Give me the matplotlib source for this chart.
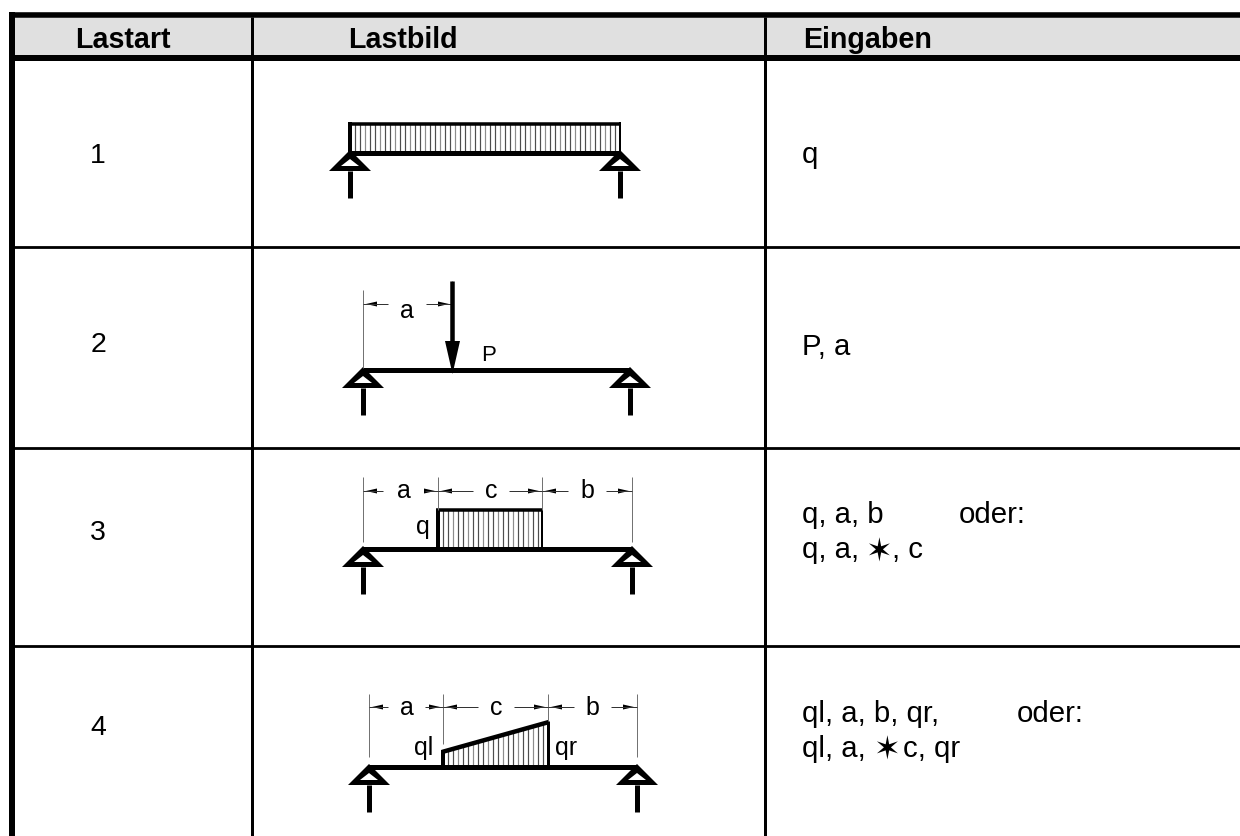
#!/usr/bin/env python3

import numpy as np
import matplotlib
matplotlib.use('Agg')
import matplotlib.pyplot as plt
from matplotlib.patches import Polygon, Rectangle

plt.rcParams['font.family'] = ['Liberation Sans', 'DejaVu Sans']

headers = ['Lastart', 'Lastbild', 'Eingaben']
header_x = [75, 348, 803]
row_numbers = ['1', '2', '3', '4']
number_base = [163, 352, 540, 735]
inputs = [('q', 802, 163), ('P, a', 802, 355),
          ('q, a, b', 802, 523), ('oder:', 959, 523),
          ('q, a,', 802, 558), (', c', 892, 558),
          ('ql, a, b, qr,', 802, 722), ('oder:', 1017, 722),
          ('ql, a,', 802, 757), ('c, qr', 903, 757)]
stars = [(879, 553), (887, 751)]

row_lines = [248, 449, 647]
col_lines = [252, 765]

# left support, right support, beam y
beams = [(350, 620, 154), (363, 630, 371), (363, 632, 550), (369, 637, 768)]

# dimension rows: (y, label baseline, ticks, labels, label gaps)
dim_a = (305, 318, [363, 452], ['a'], [(388, 426)])
dim_3 = (492, 498, [363, 438, 542, 632], ['a', 'c', 'b'],
         [(383, 425), (473, 509), (568, 606)])
dim_4 = (708, 715, [369, 443, 548, 637], ['a', 'c', 'b'],
         [(388, 425), (478, 514), (574, 611)])

fig = plt.figure(figsize=(12.4, 8.37), dpi=100)
ax = fig.add_axes([0, 0, 1, 1])
ax.set_xlim(0, 1240)
ax.set_ylim(837, 0)
ax.axis('off')


def px(w):
    return w * 0.72


def line(xs, ys, w, color='k'):
    ax.plot(xs, ys, color=color, lw=px(w), solid_capstyle='butt',
            solid_joinstyle='miter')


def support(x, y):
    ax.add_patch(Polygon([(x, y - 3), (x - 21, y + 18), (x + 21, y + 18)],
                         closed=True, fc='k', ec='none'))
    ax.add_patch(Polygon([(x, y + 6), (x - 9, y + 13), (x + 9, y + 13)],
                         closed=True, fc='white', ec='none'))
    line([x, x], [y + 18, y + 45], 5)


def beam(x0, x1, y):
    line([x0, x1], [y, y], 5)
    support(x0, y)
    support(x1, y)


def hatch(x0, x1, ytop, ybot):
    for i, x in enumerate(np.arange(x0 + 5, x1 - 1, 5)):
        top = ytop(x) if callable(ytop) else ytop
        line([x, x], [top, ybot], 1.2, '0.55' if i % 3 == 2 else '0.3')


def dims(y, base, ticks, labels, gaps, top, bottoms):
    for x, b in zip(ticks, bottoms):
        line([x, x], [top, b], 1, '0.45')
    for i, (g0, g1) in enumerate(gaps):
        x0, x1 = ticks[i], ticks[i + 1]
        line([x0, g0], [y, y], 1, '0.2')
        line([g1, x1], [y, y], 1, '0.2')
        ax.add_patch(Polygon([(x0 + 3, y), (x0 + 14, y - 2.5), (x0 + 14, y + 2.5)],
                             closed=True, fc='k', ec='none'))
        ax.add_patch(Polygon([(x1 - 3, y), (x1 - 14, y - 2.5), (x1 - 14, y + 2.5)],
                             closed=True, fc='k', ec='none'))
        ax.text((g0 + g1) / 2, base, labels[i], fontsize=18, ha='center',
                va='baseline')


# table
ax.add_patch(Rectangle((12, 13), 1228, 49, fc='#e0e0e0', ec='none'))
line([9, 1240], [15.5, 15.5], 5.5)
line([9, 1240], [59, 59], 6)
line([12, 12], [13, 837], 6)
for x in col_lines:
    line([x, x], [18, 837], 3)
for y in row_lines:
    line([12, 1240], [y, y], 2.8)

for text, x in zip(headers, header_x):
    ax.text(x, 48, text, fontsize=20.6, fontweight='bold', ha='left',
            va='baseline')
for text, y in zip(row_numbers, number_base):
    ax.text(98, y, text, fontsize=20.5, ha='center', va='baseline')
for text, x, y in inputs:
    ax.text(x, y, text, fontsize=21.2, ha='left', va='baseline')
for x, y in stars:
    ax.text(x, y, '\u2736', fontsize=23, ha='center', va='center',
            family='DejaVu Sans')

# case 1: full load
x0, x1, yb = beams[0]
hatch(x0, x1, 125, yb)
line([x0, x0], [123, yb], 4)
line([x1, x1], [123, yb], 2)
line([x0 - 2, x1 + 1], [124.5, 124.5], 3.5)
beam(*beams[0])

# case 2: point load
x0, x1, yb = beams[1]
beam(x0, x1, yb)
dims(dim_a[0], dim_a[1], dim_a[2], dim_a[3], dim_a[4], 291, [369, 282])
line([452, 452], [282, 345], 4.5)
ax.add_patch(Polygon([(445, 342), (460, 342), (452.5, 375)], closed=True,
                     fc='k', ec='none'))
ax.text(489, 361, 'P', fontsize=16, ha='center', va='baseline')

# case 3: block load
x0, x1, yb = beams[2]
hatch(438, 542, 511, yb)
line([438, 438], [511, yb], 4)
line([542, 542], [511, yb], 2)
line([436, 543], [511, 511], 3.5)
beam(x0, x1, yb)
dims(dim_3[0], dim_3[1], dim_3[2], dim_3[3], dim_3[4], 478, [543, 511, 511, 543])
ax.text(423, 534, 'q', fontsize=18, ha='center', va='baseline')

# case 4: trapezoid load
x0, x1, yb = beams[3]
hatch(443, 548, lambda x: 753 + (x - 443) * (723 - 753) / (548 - 443), yb)
line([443, 443], [751, yb], 4)
line([548, 548], [722, yb], 3)
line([442, 549], [753, 723], 4.5)
beam(x0, x1, yb)
dims(dim_4[0], dim_4[1], dim_4[2], dim_4[3], dim_4[4], 695, [758, 745, 722, 758])
ax.text(424, 755, 'ql', fontsize=18, ha='center', va='baseline')
ax.text(566, 755, 'qr', fontsize=18, ha='center', va='baseline')

plt.savefig('out.png', dpi=100)
